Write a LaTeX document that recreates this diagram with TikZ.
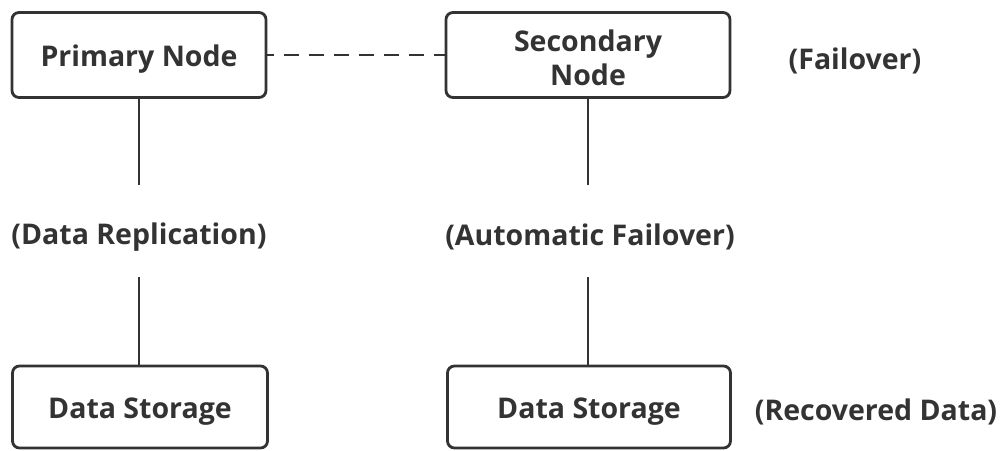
\documentclass[tikz,border=0pt]{standalone}
\usepackage{fontspec}
\setmainfont{Open Sans}
\definecolor{ink}{HTML}{333333}
\begin{document}
\begin{tikzpicture}[x=1pt,y=-1pt,
  box/.style={draw=ink,line width=2.8pt,rounded corners=7pt,fill=white,align=center,inner sep=0pt},
  lbl/.style={text=ink,font=\fontsize{28.5}{34}\selectfont\bfseries,align=center},
  conn/.style={draw=ink,line width=2.8pt}]
\useasboundingbox (0,0) rectangle (1001,450);
\node[box,minimum width=254pt,minimum height=85pt] (p) at (139,55) {};
\node[lbl] (pt) at (139,59) {Primary Node};
\node[box,minimum width=284pt,minimum height=85pt] (s) at (588,55) {};
\node[lbl] (st) at (588,58) {Secondary\\Node};
\node[lbl] (f) at (855,61) {(Failover)};
\node[box,minimum width=255pt,minimum height=82pt] (d1) at (140,407) {};
\node[lbl] (d1t) at (140,412) {Data Storage};
\node[box,minimum width=283pt,minimum height=82pt] (d2) at (589,407) {};
\node[lbl] (d2t) at (589,412) {Data Storage};
\node[lbl] (rd) at (876,412) {(Recovered Data)};
\node[lbl] (r) at (139,237) {(Data Replication)};
\node[lbl] (a) at (590,237) {(Automatic Failover)};
\draw[conn,dashed,dash pattern=on 15pt off 10pt,dash phase=8pt] (p.east) -- (s.west);
\draw[conn] (p.south) -- (139,185);
\draw[conn] (139,277) -- (p.south |- d1.north);
\draw[conn] (s.south) -- (588,185);
\draw[conn] (588,277) -- (s.south |- d2.north);
\end{tikzpicture}
\end{document}
